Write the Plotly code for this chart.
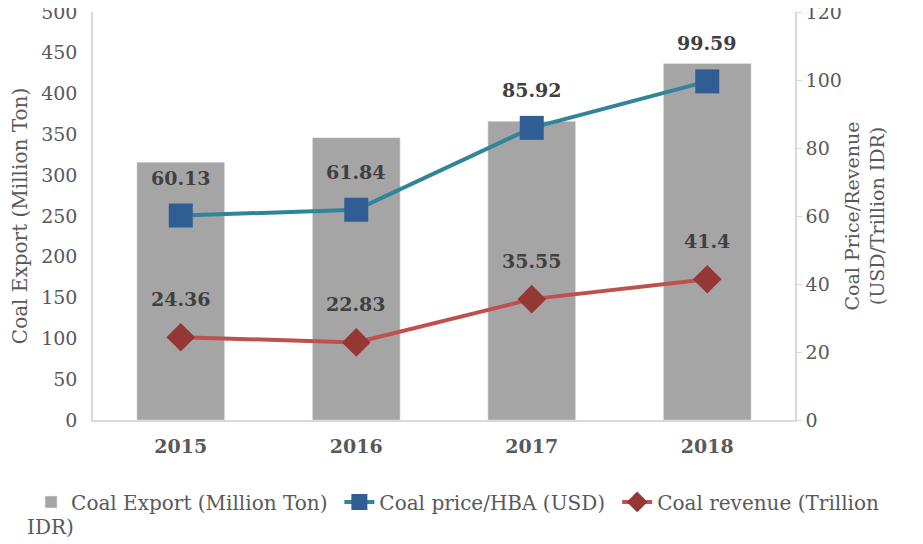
import plotly.graph_objects as go

years = ['2015', '2016', '2017', '2018']
coal_export = [316, 346, 366, 437]
coal_price = [60.13, 61.84, 85.92, 99.59]
coal_revenue = [24.36, 22.83, 35.55, 41.4]

FONT = 'DejaVu Serif'
GREY = '#595959'
LEGEND_FONT = dict(family=FONT, size=20, color=GREY)

fig = go.Figure()

fig.add_trace(go.Bar(x=years, y=coal_export, name='Coal Export (Million Ton)',
                     marker=dict(color='#A5A5A5'), legend='legend'))

fig.add_trace(go.Scatter(x=years, y=coal_price, name='Coal price/HBA (USD)', yaxis='y2',
                         mode='lines+markers', legend='legend2',
                         line=dict(color='#31859B', width=4),
                         marker=dict(symbol='square', size=24, color='#305E94')))

# legend text wraps in the original, second line added below as annotation
fig.add_trace(go.Scatter(x=years, y=coal_revenue, name='Coal revenue (Trillion', yaxis='y2',
                         mode='lines+markers', legend='legend3',
                         line=dict(color='#C0504D', width=4),
                         marker=dict(symbol='diamond', size=22, color='#953735')))

# data labels above the line markers (category axis -> use the category index)
for series in (coal_price, coal_revenue):
    for i, val in enumerate(series):
        fig.add_annotation(x=i, y=val, yref='y2', text=f'<b>{val}</b>', showarrow=False,
                           yshift=38, font=dict(family=FONT, size=19, color='#404040'))

fig.add_annotation(xref='paper', yref='paper', x=-0.097, y=-0.262, xanchor='left',
                   yanchor='middle', text='IDR)', showarrow=False, font=LEGEND_FONT)


def legend_at(x):
    return dict(orientation='h', xref='container', yref='container', x=x, y=0.092,
                xanchor='left', yanchor='middle', font=LEGEND_FONT)


fig.update_layout(
    width=923, height=544,
    margin=dict(l=85, r=136, t=4, b=132, autoexpand=False),
    plot_bgcolor='white', paper_bgcolor='white',
    font=dict(family=FONT, size=19, color=GREY),
    bargap=0.5,
    showlegend=True,
    legend=legend_at(0.025),
    legend2=legend_at(0.359),
    legend3=legend_at(0.660),
    xaxis=dict(type='category', showline=True, linecolor='#D9D9D9', linewidth=1.5,
               showgrid=False, ticks='', tickvals=years, automargin=False,
               ticktext=[f'<b>{y}</b>' for y in years], ticklabelstandoff=8,
               tickfont=dict(family=FONT, size=19, color=GREY)),
    yaxis=dict(range=[0, 500], dtick=50, showline=True, linecolor='#D9D9D9', linewidth=1.5,
               showgrid=False, zeroline=False, ticks='', ticklabelstandoff=10, automargin=False,
               ticklabeloverflow='allow',
               title=dict(text='Coal Export (Million Ton)', standoff=8,
                          font=dict(family=FONT, size=20, color=GREY))),
    yaxis2=dict(range=[0, 120], dtick=20, overlaying='y', side='right', showline=True,
                linecolor='#D9D9D9', linewidth=1.5, showgrid=False, zeroline=False,
                ticks='outside', ticklen=5, tickcolor='#D9D9D9', automargin=False,
                ticklabeloverflow='allow',
                title=dict(text='Coal Price/Revenue<br>(USD/Trillion IDR)', standoff=5,
                           font=dict(family=FONT, size=19, color=GREY))),
)

fig.write_html('out.html')
